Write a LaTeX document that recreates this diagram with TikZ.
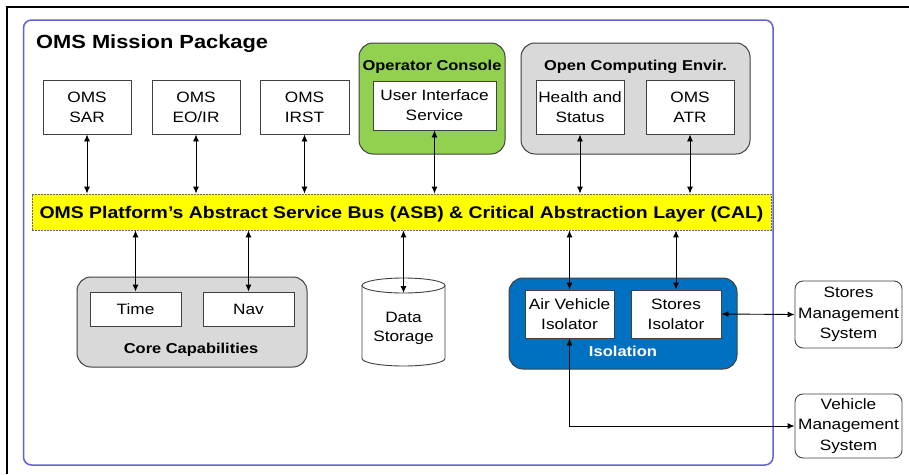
\documentclass[tikz,border=0pt]{standalone}
\usepackage{fontspec}
\setmainfont{Liberation Sans}[FakeStretch=1.15]
\usetikzlibrary{arrows.meta}
\definecolor{framecol}{RGB}{98,98,214}
\definecolor{opgreen}{RGB}{146,208,80}
\definecolor{grpgray}{RGB}{217,217,217}
\definecolor{isoblue}{RGB}{0,112,192}
\definecolor{busyellow}{RGB}{255,255,0}
\definecolor{boxline}{RGB}{64,64,64}
\begin{document}
\begin{tikzpicture}[x=1pt,y=-1pt,
  sz/.style 2 args={minimum width=#1pt, minimum height=#2pt},
  box/.style={draw=boxline, line width=0.9pt, fill=white, inner sep=0pt, align=center, font=\fontsize{15}{20}\selectfont},
  grp/.style={draw=boxline, line width=1pt, rounded corners=14pt, inner sep=0pt},
  subt/.style={inner sep=0pt, font=\fontsize{14.3}{17}\selectfont\bfseries},
  extbox/.style={draw=boxline, line width=0.9pt, fill=white, inner sep=0pt, rounded corners=8pt, align=center, font=\fontsize{15}{20.5}\selectfont},
  conn/.style={{Latex[length=7pt,width=6pt]}-{Latex[length=7pt,width=6pt]}, line width=0.9pt, draw=black}
]
\useasboundingbox (0,0) rectangle (909,474);
\fill[white] (0,0) rectangle (909,474);
% outer black frame (partial)
\draw[line width=2pt] (7,474) -- (7,7) -- (909,7);
% mission package frame
\draw[framecol, line width=1.5pt, rounded corners=8pt] (23.5,20) rectangle (773,465);
\node[anchor=base west, inner sep=0pt, font=\fontsize{19}{22}\selectfont\bfseries] (title) at (36,48) {OMS Mission Package};

% top sensor boxes
\node[box, sz={88}{54}] (sar) at (87,107) {OMS\\SAR};
\node[box, sz={88}{54}] (eoir) at (196,107) {OMS\\EO/IR};
\node[box, sz={89}{54}] (irst) at (304.5,107) {OMS\\IRST};

% operator console
\node[grp, fill=opgreen, sz={146}{111}] (opc) at (432,98.5) {};
\node[subt, anchor=base] (opct) at (432,70) {Operator Console};
\node[box, sz={123}{49}] (ui) at (434.5,105.5) {User Interface\\Service};

% open computing environment
\node[grp, fill=grpgray, sz={229}{111}] (oce) at (635.5,98.5) {};
\node[subt, anchor=base] (ocet) at (635.5,70) {Open Computing Envir.};
\node[box, sz={88}{54}] (hs) at (580,107) {Health and\\Status};
\node[box, sz={88}{54}] (atr) at (690,107) {OMS\\ATR};

% bus
\node[draw=black!60, dash pattern=on 2pt off 1pt, line width=0.8pt, fill=busyellow, inner sep=0pt, sz={739}{36}] (bus) at (401.5,212) {};
\node[anchor=base, inner sep=0pt, font=\fontsize{16.9}{20}\selectfont\bfseries] (bust) at (401.5,218) {OMS Platform’s Abstract Service Bus (ASB) \& Critical Abstraction Layer (CAL)};

% core capabilities
\node[grp, fill=grpgray, sz={230}{90}] (core) at (192,322) {};
\node[box, sz={91}{34}] (time) at (135.5,309) {Time};
\node[box, sz={91}{34}] (nav) at (248.5,309) {Nav};
\node[subt, anchor=base] (coret) at (191,353) {Core Capabilities};

% data storage cylinder
\draw[boxline, line width=0.9pt, fill=white] (362,285.5) -- (362,358.5) arc[start angle=180, end angle=0, x radius=41.5, y radius=7.5] -- (445,285.5);
\draw[boxline, line width=0.9pt, fill=white] (403.5,285.5) ellipse[x radius=41.5, y radius=7.5];
\coordinate (dstop) at (403.5,293);
\node[inner sep=0pt, align=center, font=\fontsize{15}{19}\selectfont] (ds) at (403.5,328) {Data\\Storage};

% isolation
\node[grp, fill=isoblue, sz={228}{91}] (iso) at (623,323.5) {};
\node[box, sz={89}{48}] (avi) at (569.5,314) {Air Vehicle\\Isolator};
\node[box, sz={90}{48}] (si) at (676,314) {Stores\\Isolator};
\node[subt, anchor=base, text=white, font=\fontsize{14.4}{17}\selectfont\bfseries] (isot) at (623,356) {Isolation};

% external systems
\node[extbox, sz={107}{67}] (sms) at (848.5,314.5) {Stores\\Management\\System};
\node[extbox, sz={107}{64}] (vms) at (848.5,426) {Vehicle\\Management\\System};

% connectors top
\draw[conn] (sar.south) -- (sar.south |- bus.north);
\draw[conn] (eoir.south) -- (eoir.south |- bus.north);
\draw[conn] (irst.south) -- (irst.south |- bus.north);
\draw[conn] (ui.south) -- (ui.south |- bus.north);
\draw[conn] (hs.south) -- (hs.south |- bus.north);
\draw[conn] (atr.south) -- (atr.south |- bus.north);
% connectors bottom
\draw[conn] (time.north |- bus.south) -- (time.north);
\draw[conn] (nav.north |- bus.south) -- (nav.north);
\draw[conn] (dstop |- bus.south) -- (dstop);
\draw[conn] (avi.north |- bus.south) -- (avi.north);
\draw[conn] (si.north |- bus.south) -- (si.north);
% external
\draw[conn] (si.east) -- (sms.west);
\draw[conn] (avi.south) -- (avi.south |- vms.west) -- (vms.west);
\end{tikzpicture}
\end{document}
